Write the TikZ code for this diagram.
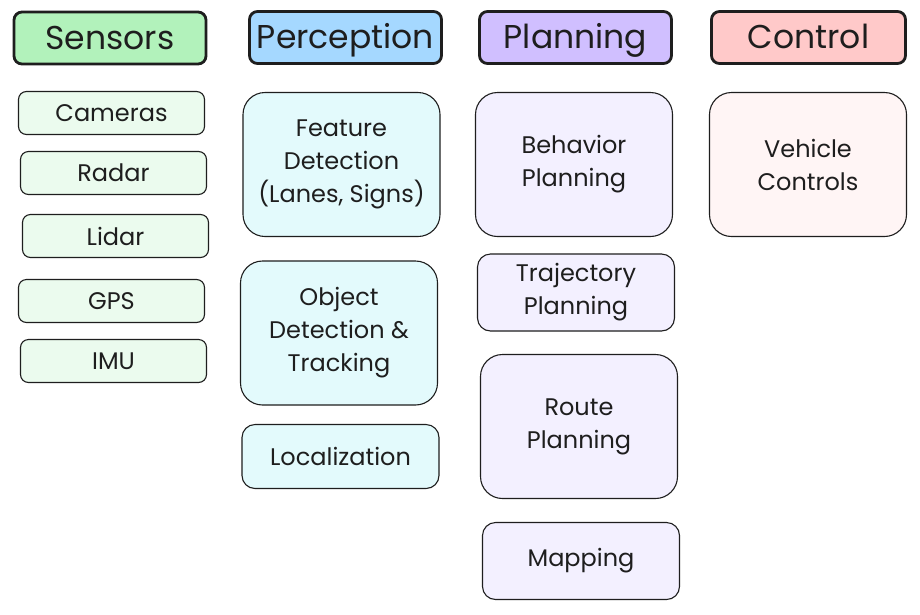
\documentclass[tikz,border=0pt]{standalone}
\usepackage{fontspec}
\setmainfont{Poppins}
\definecolor{ink}{HTML}{1E1E1E}
\definecolor{sensH}{HTML}{B2F2BB}
\definecolor{percH}{HTML}{A5D8FF}
\definecolor{planH}{HTML}{D0BFFF}
\definecolor{ctrlH}{HTML}{FFC9C9}
\definecolor{sensL}{HTML}{EBFBEE}
\definecolor{percL}{HTML}{E3FAFC}
\definecolor{planL}{HTML}{F3F0FF}
\definecolor{ctrlL}{HTML}{FFF5F5}
\begin{document}
\begin{tikzpicture}[x=1pt,y=-1pt,
  hdr/.style={draw=ink, line width=2.8pt, rounded corners=8pt, inner sep=0pt,
    font=\fontsize{33}{36}\selectfont, text=ink,
    text height=23pt, text depth=1pt,
    minimum width=192pt, minimum height=52pt},
  item/.style={draw=ink, line width=1.1pt, inner sep=0pt, align=center,
    font=\fontsize{24}{33}\selectfont, text=ink},
  small/.style={item, rounded corners=8pt, minimum width=186pt, minimum height=43pt},
  mid/.style={item, rounded corners=13pt, minimum width=197pt, minimum height=77pt},
  big/.style={item, rounded corners=22pt, minimum width=197pt, minimum height=144pt}
]
\fill[white] (0,0) rectangle (920,614);
\useasboundingbox (0,0) rectangle (920,614);

% headers
\node[hdr, fill=sensH] (sens) at (110,38) {Sensors};
\node[hdr, fill=percH] (perc) at (345.5,37.5) {Perception};
\node[hdr, fill=planH] (plan) at (575.5,37.5) {Planning};
\node[hdr, fill=ctrlH, minimum width=194pt] (ctrl) at (808.5,37.5) {Control};

% sensors
\node[small, fill=sensL] (cam) at (111.5,113) {Cameras};
\node[small, fill=sensL] (rad) at (113.5,173) {Radar};
\node[small, fill=sensL] (lid) at (115.5,236) {Lidar};
\node[small, fill=sensL] (gps) at (111.5,301) {GPS};
\node[small, fill=sensL] (imu) at (113.5,361) {IMU};

% perception
\node[big, fill=percL] (feat) at (341.5,164.5) {Feature\\Detection\\(Lanes, Signs)};
\node[big, fill=percL] (obj) at (339,333) {Object\\Detection \&\\Tracking};
\node[mid, fill=percL, minimum height=64pt] (loc) at (340.5,456.5) {Localization};

% planning
\node[big, fill=planL] (beh) at (574,164.5) {Behavior\\Planning};
\node[mid, fill=planL] (traj) at (576,292.5) {Trajectory\\Planning};
\node[big, fill=planL] (route) at (579,426.5) {Route\\Planning};
\node[mid, fill=planL] (map) at (581,561) {Mapping};

% control
\node[big, fill=ctrlL] (veh) at (808,164.5) {Vehicle\\Controls};
\end{tikzpicture}
\end{document}
